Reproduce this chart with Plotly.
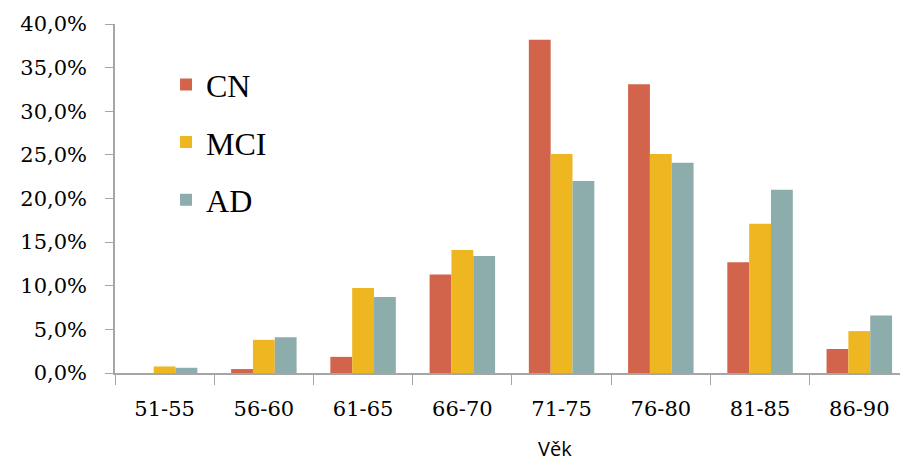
import plotly.graph_objects as go

# Age groups and the share of each diagnostic group (in %)
age_groups = ["51-55", "56-60", "61-65", "66-70", "71-75", "76-80", "81-85", "86-90"]
cn = [0.0, 0.45, 1.85, 11.3, 38.2, 33.1, 12.7, 2.75]
mci = [0.75, 3.8, 9.75, 14.1, 25.1, 25.1, 17.1, 4.8]
ad = [0.6, 4.1, 8.7, 13.4, 22.0, 24.1, 21.0, 6.6]

series = [("CN", cn, "#d2644b"), ("MCI", mci, "#eeb620"), ("AD", ad, "#8dadad")]

fig = go.Figure()
for name, vals, color in series:
    fig.add_trace(go.Bar(
        x=age_groups, y=vals, name=name, legendgroup=name,
        marker=dict(color=color, line=dict(width=0)),
    ))

axis_col = "#a6a6a6"
tick_font = dict(family="DejaVu Serif", size=21, color="black")
fig.update_layout(
    width=900, height=461,
    margin=dict(l=115, r=0, t=24, b=88),
    plot_bgcolor="white", paper_bgcolor="white",
    barmode="group", bargap=0.34, bargroupgap=0,
    separators=", ",
    showlegend=True,
    legend=dict(
        x=0.065, y=0.905, xanchor="left", yanchor="top",
        font=dict(family="Liberation Serif", size=32, color="black"),
        tracegroupgap=13, bgcolor="rgba(0,0,0,0)",
    ),
    xaxis=dict(
        range=[-0.5, 7.41],
        showline=True, linecolor=axis_col, linewidth=1.5,
        ticks="outside", tickson="boundaries", ticklen=10, tickcolor=axis_col,
        tickfont=tick_font, ticklabelstandoff=16,
        showgrid=False,
    ),
    yaxis=dict(
        range=[0, 40], dtick=5,
        tickformat=".1f", ticksuffix="%",
        showline=True, linecolor=axis_col, linewidth=1.5,
        ticks="outside", ticklen=8, tickcolor=axis_col,
        tickfont=tick_font, ticklabelstandoff=14,
        showgrid=False, zeroline=False,
    ),
    annotations=[dict(
        text="Věk", xref="paper", yref="paper", x=0.5605, y=-0.216,
        xanchor="center", yanchor="middle", showarrow=False,
        font=dict(family="Open Sans", size=20, color="black"),
    )],
)

fig.write_html("out.html")
